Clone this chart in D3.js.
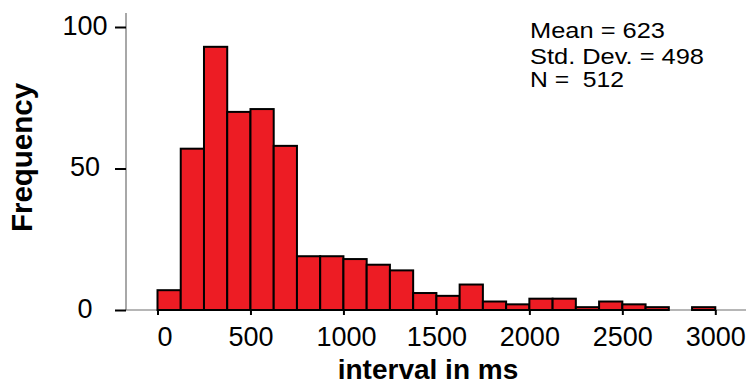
<!DOCTYPE html>
<html><head><meta charset="utf-8">
<script src="https://cdn.jsdelivr.net/npm/d3@7/dist/d3.min.js"></script>
<style>
body{margin:0;background:#fff}
svg{display:block}
text{font-family:"Liberation Sans",Arial,Helvetica,sans-serif;fill:#000}
</style>
</head><body>
<svg id="c" width="752" height="384"></svg>
<script>
// ---- data ----
const binStarts = [0,125,250,375,500,625,750,875,1000,1125,1250,1375,1500,1625,1750,1875,2000,2125,2250,2375,2500,2625,2750,2875];
const binWidth = 125;
const counts = [7,57,93,70,71,58,19,19,18,16,14,6,5,9,3,2,4,4,1,3,2,1,0,1];
const xTicks = [0,500,1000,1500,2000,2500,3000];
const yTicks = [0,50,100];
const statLines = ["Mean = 623","Std. Dev. = 498","N =  512"];
const xTitle = "interval in ms";
const yTitle = "Frequency";

// ---- drawing ----
const svg = d3.select("#c");
const x = d3.scaleLinear().domain([0,3000]).range([157.5,715.3]);
const y = d3.scaleLinear().domain([0,100]).range([310,27]);

// axis lines (grey)
svg.append("line").attr("x1",126).attr("x2",126).attr("y1",13).attr("y2",y(0))
  .attr("stroke","#6e6e6e").attr("stroke-width",1.2);
svg.append("line").attr("x1",126).attr("x2",746).attr("y1",y(0)).attr("y2",y(0))
  .attr("stroke","#6e6e6e").attr("stroke-width",1.2);

// bars
const bins = binStarts.map((s,i)=>({start:s,end:s+binWidth,count:counts[i]})).filter(d=>d.count>0);
svg.append("g").selectAll("rect").data(bins).join("rect")
  .attr("x",d=>x(d.start))
  .attr("width",d=>x(d.end)-x(d.start))
  .attr("y",d=>y(d.count))
  .attr("height",d=>y(0)-y(d.count))
  .attr("fill","#ed1c24")
  .attr("stroke","#000")
  .attr("stroke-width",2);

// x axis
const gx = svg.append("g").attr("transform",`translate(0,${y(0)})`)
  .call(d3.axisBottom(x).tickValues(xTicks).tickSize(5).tickFormat(d3.format("d")));
gx.select(".domain").remove();
gx.selectAll(".tick line").attr("stroke","#000").attr("stroke-width",2);
gx.selectAll(".tick text").attr("y",36).attr("dy",0)
  .attr("dx",d=>d===0?7:(d===1000?2.5:0))
  .style("font-size","27px").style("font-family","'Liberation Sans',Arial,sans-serif").attr("fill","#000");

// y axis
const gy = svg.append("g").attr("transform","translate(126,0)")
  .call(d3.axisLeft(y).tickValues(yTicks).tickSize(11).tickFormat(d3.format("d")));
gy.select(".domain").remove();
gy.selectAll(".tick line").attr("stroke","#000").attr("stroke-width",2);
gy.selectAll(".tick text").attr("x",-41).attr("y",7).attr("dy",0)
  .attr("text-anchor","middle")
  .style("font-size","27px").style("font-family","'Liberation Sans',Arial,sans-serif").attr("fill","#000");

// titles
svg.append("text").attr("x",428).attr("y",379).attr("text-anchor","middle")
  .style("font-size","28px").style("font-weight","bold").text(xTitle);
svg.append("text").attr("transform","translate(31.5,157.5) rotate(-90)").attr("text-anchor","middle")
  .style("font-size","29.5px").style("font-weight","bold").text(yTitle);

// stats box
const statLayout = [{y:37.7,len:135},{y:64,len:174},{y:86.5,len:94}];
svg.append("g").selectAll("text").data(statLines).join("text")
  .attr("x",530)
  .attr("y",(d,i)=>statLayout[i].y)
  .attr("textLength",(d,i)=>statLayout[i].len)
  .attr("lengthAdjust","spacingAndGlyphs")
  .attr("xml:space","preserve")
  .style("white-space","pre")
  .style("font-size","22px")
  .text(d=>d);
</script>
</body></html>
